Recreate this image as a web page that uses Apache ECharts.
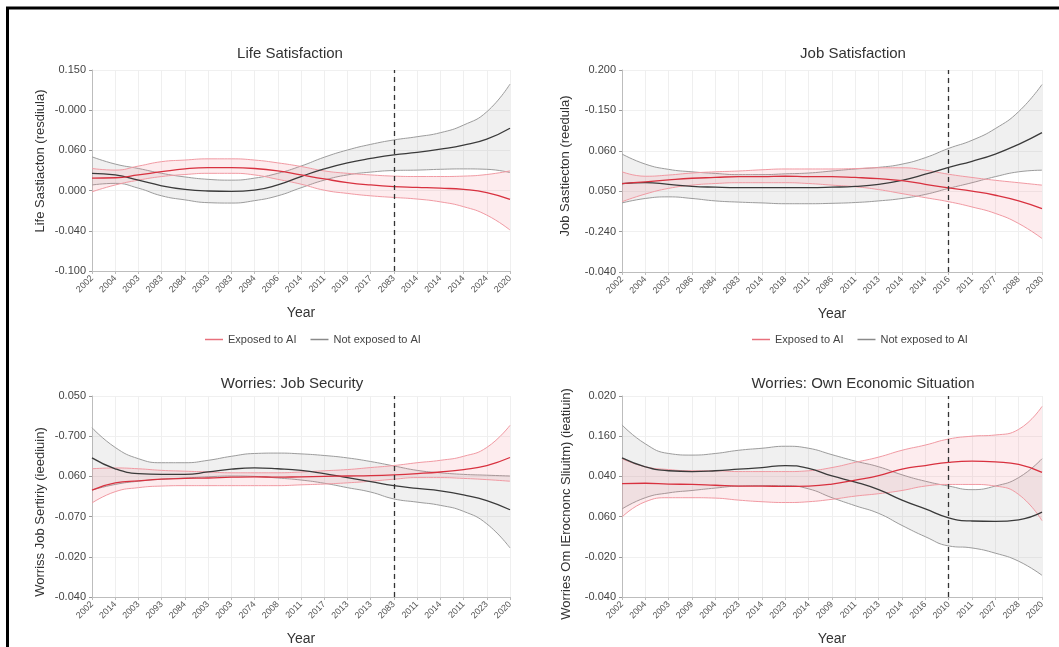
<!DOCTYPE html>
<html>
<head>
<meta charset="utf-8">
<script src="https://cdn.jsdelivr.net/npm/echarts@6/dist/echarts.min.js"></script>
<style>
html,body{margin:0;padding:0;background:#fff;}
#chart{width:1059px;height:647px;}
</style>
</head>
<body>
<div id="chart"></div>
<script>
// ---------- DATA (values in the axis' tick-index units, ticks labelled below) ----------
const seriesNames = ['Exposed to AI', 'Not exposed to AI'];
const panelTitles = ['Life Satisfaction', 'Job Satisfaction', 'Worries: Job Security', 'Worries: Own Economic Situation'];
const yAxisNames = ['Life Sastiacton (resdiula)', 'Job Sastiecton (reedula)', 'Worriss Job Sertiriy (ieediuin)', 'Worries Om IErocnonc Sliuitm) (ieatiuin)'];

const yLabels1 = ['-0.100', '-0.040', '0.000', '0.060', '-0.000', '0.150'];
const yLabels2 = ['-0.040', '-0.240', '0.050', '0.060', '-0.150', '0.200'];
const yLabels3 = ['-0.040', '-0.020', '-0.070', '0.060', '-0.700', '0.050'];
const yLabels4 = ['-0.040', '-0.020', '0.060', '0.040', '0.160', '0.020'];

const xLabels1 = ['2002','2004','2003','2083','2084','2003','2083','2094','2006','2014','2011','2019','2017','2083','2014','2014','2014','2024','2020'];
const xLabels2 = ['2002','2004','2003','2086','2084','2083','2014','2018','2011','2086','2011','2013','2014','2014','2016','2011','2077','2088','2030'];
const xLabels3 = ['2002','2014','2003','2093','2084','2003','2003','2074','2008','2011','2017','2013','2013','2083','2011','2014','2011','2023','2020'];
const xLabels4 = ['2002','2004','2003','2009','2004','2023','2014','2023','2014','2009','2011','2013','2014','2016','2010','2011','2027','2028','2020'];

const cutoff1 = 13, cutoff2 = 14, cutoff3 = 13, cutoff4 = 14;

// Panel 1 - Life Satisfaction
const p1RedMean  = [2.31,2.32,2.39,2.47,2.54,2.57,2.57,2.55,2.49,2.39,2.29,2.20,2.14,2.10,2.08,2.06,2.03,1.95,1.78];
const p1RedLow   = [1.97,2.14,2.26,2.35,2.40,2.43,2.43,2.39,2.28,2.16,2.01,1.93,1.87,1.83,1.79,1.72,1.60,1.39,1.02];
const p1RedHigh  = [2.55,2.51,2.61,2.72,2.76,2.79,2.79,2.76,2.69,2.60,2.49,2.43,2.39,2.36,2.35,2.35,2.36,2.40,2.49];
const p1GreyMean = [2.43,2.39,2.26,2.12,2.03,1.99,1.98,2.01,2.14,2.35,2.54,2.69,2.80,2.89,2.95,3.03,3.13,3.28,3.55];
const p1GreyLow  = [2.14,2.18,2.06,1.87,1.77,1.70,1.69,1.75,1.87,2.07,2.26,2.39,2.46,2.50,2.51,2.53,2.54,2.53,2.45];
const p1GreyHigh = [2.84,2.66,2.55,2.43,2.34,2.28,2.26,2.31,2.43,2.61,2.83,3.01,3.15,3.26,3.34,3.44,3.63,3.96,4.65];

// Panel 2 - Job Satisfaction
const p2RedMean  = [2.19,2.23,2.28,2.32,2.34,2.36,2.36,2.37,2.36,2.36,2.34,2.31,2.26,2.17,2.08,2.00,1.90,1.76,1.57];
const p2RedLow   = [1.74,1.93,2.07,2.15,2.19,2.21,2.21,2.21,2.19,2.15,2.11,2.04,1.94,1.84,1.74,1.61,1.45,1.20,0.83];
const p2RedHigh  = [2.48,2.37,2.40,2.45,2.48,2.50,2.53,2.55,2.55,2.55,2.56,2.58,2.58,2.52,2.42,2.34,2.27,2.21,2.15];
const p2GreyMean = [2.19,2.21,2.17,2.12,2.10,2.09,2.09,2.09,2.09,2.10,2.12,2.17,2.27,2.42,2.59,2.74,2.92,3.16,3.45];
const p2GreyLow  = [1.71,1.82,1.86,1.82,1.76,1.73,1.71,1.69,1.69,1.70,1.72,1.76,1.82,1.92,2.07,2.21,2.36,2.48,2.52];
const p2GreyHigh = [2.92,2.67,2.54,2.48,2.44,2.41,2.41,2.43,2.45,2.50,2.55,2.59,2.67,2.83,3.06,3.26,3.55,3.97,4.64];

// Panel 3 - Worries: Job Security
const p3RedMean  = [2.66,2.84,2.89,2.93,2.95,2.96,2.98,2.99,2.98,2.99,3.00,3.01,3.02,3.04,3.07,3.11,3.17,3.27,3.47];
const p3RedLow   = [2.34,2.62,2.72,2.76,2.77,2.77,2.77,2.77,2.77,2.79,2.81,2.84,2.88,2.93,2.97,2.97,2.95,2.92,2.88];
const p3RedHigh  = [3.19,3.21,3.19,3.15,3.13,3.11,3.09,3.09,3.09,3.11,3.14,3.17,3.22,3.27,3.34,3.40,3.50,3.72,4.27];
const p3GreyMean = [3.46,3.19,3.07,3.05,3.05,3.11,3.18,3.21,3.19,3.15,3.07,2.97,2.87,2.77,2.70,2.64,2.54,2.40,2.17];
const p3GreyLow  = [2.66,2.80,2.88,2.93,2.96,2.99,3.01,3.00,2.96,2.91,2.83,2.72,2.61,2.44,2.36,2.28,2.13,1.82,1.22];
const p3GreyHigh = [4.21,3.72,3.44,3.34,3.34,3.40,3.50,3.57,3.58,3.56,3.52,3.46,3.37,3.26,3.15,3.09,3.05,3.03,3.01];

// Panel 4 - Worries: Own Economic Situation
const p4RedMean  = [2.82,2.83,2.81,2.80,2.78,2.76,2.76,2.75,2.76,2.81,2.91,3.02,3.18,3.27,3.35,3.38,3.36,3.30,3.10];
const p4RedLow   = [1.99,2.37,2.47,2.47,2.46,2.41,2.37,2.35,2.37,2.43,2.51,2.57,2.65,2.76,2.80,2.80,2.76,2.55,1.90];
const p4RedHigh  = [3.44,3.24,3.17,3.14,3.14,3.12,3.12,3.12,3.14,3.22,3.35,3.48,3.65,3.78,3.93,4.00,4.03,4.17,4.74];
const p4GreyMean = [3.46,3.24,3.14,3.12,3.14,3.18,3.22,3.27,3.20,3.01,2.86,2.67,2.41,2.19,1.97,1.89,1.88,1.92,2.11];
const p4GreyLow  = [2.19,2.47,2.59,2.65,2.71,2.76,2.77,2.77,2.69,2.47,2.27,2.08,1.78,1.50,1.27,1.22,1.09,0.89,0.54];
const p4GreyHigh = [4.28,3.81,3.57,3.53,3.57,3.65,3.70,3.75,3.70,3.54,3.38,3.24,3.04,2.88,2.76,2.67,2.76,2.97,3.44];

// ---------- BUILD ----------
const FONT = 'Liberation Sans, Arial, Helvetica, sans-serif';
const RED = '#d8313f', RED_EDGE = '#f19aa3', RED_FILL = 'rgba(238,120,132,0.14)';
const GREY = '#3a3a3a', GREY_EDGE = '#9c9c9c', GREY_FILL = 'rgba(160,160,160,0.16)';

const panels = [
  {title: panelTitles[0], yName: yAxisNames[0], yLabels: yLabels1, xLabels: xLabels1, cut: cutoff1,
   red: [p1RedMean, p1RedLow, p1RedHigh], grey: [p1GreyMean, p1GreyLow, p1GreyHigh],
   grid: {left: 92, top: 70, width: 418, height: 201}, titleX: 285, titleY: 41, yNameX: 40, yNameY: 161},
  {title: panelTitles[1], yName: yAxisNames[1], yLabels: yLabels2, xLabels: xLabels2, cut: cutoff2,
   red: [p2RedMean, p2RedLow, p2RedHigh], grey: [p2GreyMean, p2GreyLow, p2GreyHigh],
   grid: {left: 622, top: 70, width: 420, height: 202}, titleX: 848, titleY: 41, yNameX: 565, yNameY: 166},
  {title: panelTitles[2], yName: yAxisNames[2], yLabels: yLabels3, xLabels: xLabels3, cut: cutoff3,
   red: [p3RedMean, p3RedLow, p3RedHigh], grey: [p3GreyMean, p3GreyLow, p3GreyHigh],
   grid: {left: 92, top: 396, width: 418, height: 205}, titleX: 287, titleY: 371, yNameX: 40, yNameY: 512},
  {title: panelTitles[3], yName: yAxisNames[3], yLabels: yLabels4, xLabels: xLabels4, cut: cutoff4,
   red: [p4RedMean, p4RedLow, p4RedHigh], grey: [p4GreyMean, p4GreyLow, p4GreyHigh],
   grid: {left: 622, top: 396, width: 420, height: 205}, titleX: 858, titleY: 371, yNameX: 566, yNameY: 504}
];

const diff = (hi, lo) => hi.map((v, i) => +(v - lo[i]).toFixed(3));

const option = {
  backgroundColor: '#fff',
  animation: false,
  textStyle: {fontFamily: FONT},
  title: [], grid: [], xAxis: [], yAxis: [], series: [],
  legend: [0, 1].map(k => ({
    left: k === 0 ? 200 : 747, top: 329,
    data: [
      {name: seriesNames[0], icon: 'rect', itemStyle: {color: '#e8707c'}},
      {name: seriesNames[1], icon: 'rect', itemStyle: {color: '#8a8a8a'}}
    ],
    itemWidth: 18, itemHeight: 1.5, itemGap: 14,
    textStyle: {fontFamily: FONT, fontSize: 11, color: '#444'},
    selectedMode: false
  })),
  graphic: [
    {type: 'rect', shape: {x: 7.5, y: 8, width: 1200, height: 800}, style: {fill: 'none', stroke: '#000', lineWidth: 3}, silent: true}
  ]
};

panels.forEach((p, i) => {
  option.title.push({
    text: p.title, left: p.titleX, top: p.titleY, textAlign: 'center',
    textStyle: {fontFamily: FONT, fontSize: 15, fontWeight: 'normal', color: '#333'}
  });
  option.grid.push(Object.assign({containLabel: false}, p.grid));
  option.xAxis.push({
    type: 'category', gridIndex: i, data: p.xLabels, boundaryGap: false,
    name: 'Year', nameLocation: 'middle', nameGap: 35,
    nameTextStyle: {fontFamily: FONT, fontSize: 14, color: '#333'},
    axisLine: {lineStyle: {color: '#bdbdbd', width: 1}},
    axisTick: {show: true, length: 3, interval: 0, lineStyle: {color: '#bdbdbd'}},
    axisLabel: {rotate: 45, fontSize: 9, color: '#555', margin: 6, interval: 0, fontFamily: FONT},
    splitLine: {show: true, interval: 0, lineStyle: {color: '#efefef', width: 1}}
  });
  option.yAxis.push({
    type: 'value', gridIndex: i, min: 0, max: 5, interval: 1,
    axisLine: {show: true, lineStyle: {color: '#bdbdbd', width: 1}},
    axisTick: {show: true, length: 3, lineStyle: {color: '#999'}},
    axisLabel: {fontSize: 11, color: '#444', margin: 6, fontFamily: FONT,
      formatter: v => p.yLabels[Math.round(v)] || ''},
    splitLine: {show: true, lineStyle: {color: '#f0f0f0', width: 1}}
  });
  option.graphic.push({
    type: 'text', x: p.yNameX, y: p.yNameY, rotation: Math.PI / 2, silent: true,
    style: {text: p.yName, fontFamily: FONT, fontSize: 13, fill: '#333', textAlign: 'center', textVerticalAlign: 'middle'}
  });

  const base = {type: 'line', xAxisIndex: i, yAxisIndex: i, smooth: 0.5, symbol: 'none', showSymbol: false, silent: true};
  // grey band (lower + stacked width)
  option.series.push(Object.assign({}, base, {name: 'grey band low', stack: 'g' + i,
    data: p.grey[1], lineStyle: {color: GREY_EDGE, width: 1}, z: 2}));
  option.series.push(Object.assign({}, base, {name: 'grey band high', stack: 'g' + i,
    data: diff(p.grey[2], p.grey[1]), lineStyle: {color: GREY_EDGE, width: 1},
    areaStyle: {color: GREY_FILL, opacity: 1}, z: 2}));
  // red band
  option.series.push(Object.assign({}, base, {name: 'red band low', stack: 'r' + i,
    data: p.red[1], lineStyle: {color: RED_EDGE, width: 1}, z: 3}));
  option.series.push(Object.assign({}, base, {name: 'red band high', stack: 'r' + i,
    data: diff(p.red[2], p.red[1]), lineStyle: {color: RED_EDGE, width: 1},
    areaStyle: {color: RED_FILL, opacity: 1}, z: 3}));
  // means
  option.series.push(Object.assign({}, base, {name: seriesNames[1], data: p.grey[0],
    color: GREY, lineStyle: {color: GREY, width: 1.3}, z: 5,
    markLine: {silent: true, symbol: ['none', 'none'], label: {show: false}, z: 7,
      lineStyle: {color: '#333', type: [5, 4], width: 1.3},
      data: [{xAxis: p.cut}]}}));
  option.series.push(Object.assign({}, base, {name: seriesNames[0], data: p.red[0],
    color: RED, lineStyle: {color: RED, width: 1.3}, z: 6}));
});

const chart = echarts.init(document.getElementById('chart'), null, {renderer: 'canvas'});
chart.setOption(option);
</script>
</body>
</html>
